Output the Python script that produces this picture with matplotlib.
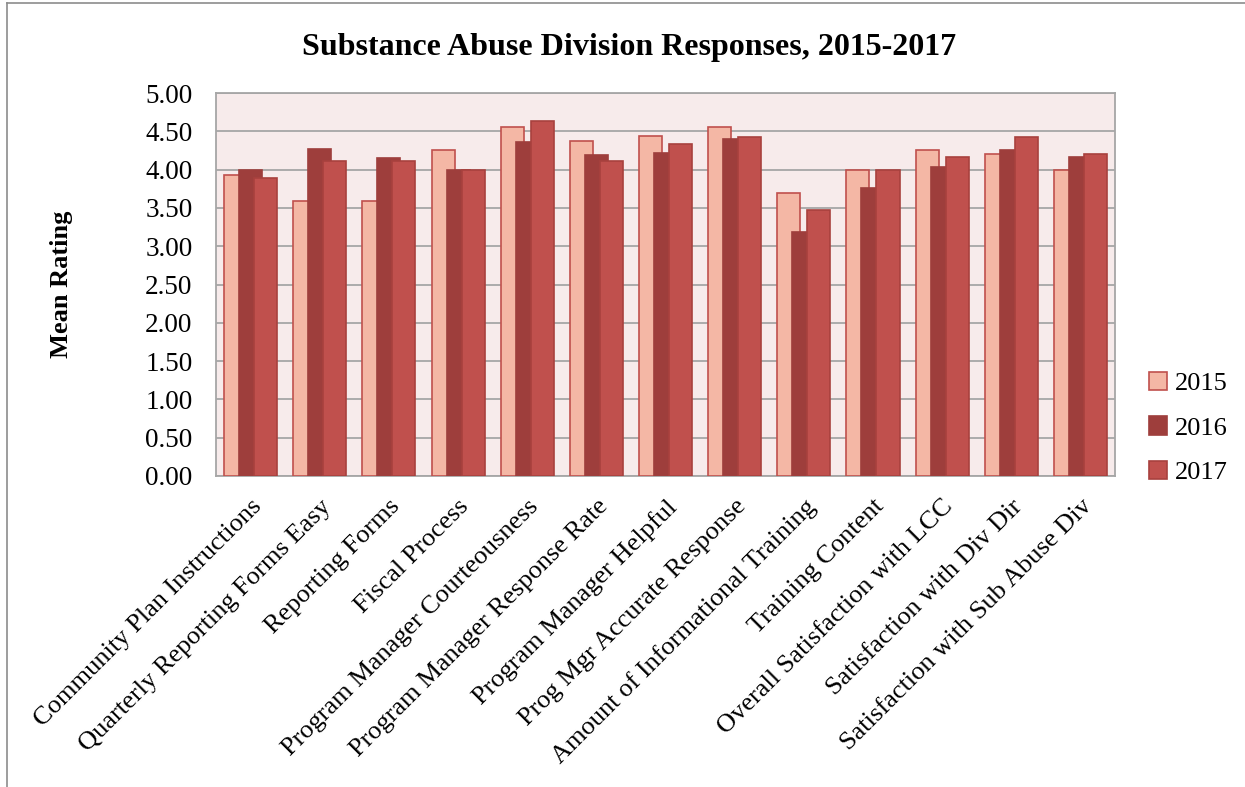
import numpy as np
import matplotlib.pyplot as plt
from matplotlib.lines import Line2D

# --- DATA ---
categories = [
    'Community Plan Instructions', 'Quarterly Reporting Forms Easy',
    'Reporting Forms', 'Fiscal Process', 'Program Manager Courteousness',
    'Program Manager Response Rate', 'Program Manager Helpful',
    'Prog Mgr Accurate Response', 'Amount of Informational Training',
    'Training Content', 'Overall Satisfaction with LCC',
    'Satisfaction with Div Dir', 'Satisfaction with Sub Abuse Div',
]
years = ['2015', '2016', '2017']
y2015 = [3.93, 3.59, 3.59, 4.25, 4.56, 4.38, 4.44, 4.56, 3.70, 4.00, 4.25, 4.21, 4.00]
y2016 = [4.00, 4.27, 4.15, 4.00, 4.36, 4.19, 4.22, 4.40, 3.18, 3.76, 4.04, 4.26, 4.16]
y2017 = [3.89, 4.11, 4.11, 4.00, 4.63, 4.11, 4.33, 4.42, 3.47, 4.00, 4.16, 4.42, 4.21]
y_ticks = np.arange(0, 5.01, 0.5)

fills = ['#F4B7A5', '#9E3E3C', '#C0504D']
edges = ['#C0504D', '#9E3E3C', '#A8413E']

plt.rcParams['font.family'] = ['Liberation Serif', 'DejaVu Serif']

fig = plt.figure(figsize=(12.45, 7.87), dpi=100)
ax = fig.add_axes([0.1735, 0.3952, 0.7221, 0.4866])
ax.set_facecolor('#F7EBEB')

x = np.arange(len(categories))
width = 0.333
step = 0.217
for i, vals in enumerate([y2015, y2016, y2017]):
    ax.bar(x + (i - 1) * step, vals, width, color=fills[i],
           edgecolor=edges[i], linewidth=1.2, label=years[i], zorder=3 + i)

ax.set_xlim(-0.5, len(categories) - 0.5)
ax.set_ylim(0, 5)
ax.set_yticks(y_ticks)
ax.set_yticklabels([f'{v:.2f}' for v in y_ticks], fontsize=19.5)
ax.set_xticks(x)
ax.set_xticklabels(categories, rotation=45, ha='right', va='top',
                   rotation_mode='anchor', fontsize=19)
ax.tick_params(axis='y', length=0, pad=17)
ax.tick_params(axis='x', length=0, pad=14)
ax.grid(axis='y', color='#A6A6A6', linewidth=1.3, zorder=1)
ax.set_axisbelow(True)
for s in ax.spines.values():
    s.set_color('#A6A6A6')
    s.set_linewidth(1.3)

ax.set_ylabel('Mean Rating', fontsize=19, fontweight='bold', labelpad=52)
fig.text(0.505, 0.94, 'Substance Abuse Division Responses, 2015-2017',
         ha='center', va='center', fontsize=23, fontweight='bold')

ax.legend(loc='center left', bbox_to_anchor=(1.011, 0.125), frameon=False,
          fontsize=19, handlelength=0.7, handleheight=0.7, handletextpad=0.3,
          labelspacing=0.8)

# outer chart border (left and top edges visible)
fig.add_artist(Line2D([0.0056, 0.0056], [0.0, 0.996], color='#8C8C8C', lw=1.2))
fig.add_artist(Line2D([0.0056, 1.0], [0.996, 0.996], color='#8C8C8C', lw=1.2))

fig.savefig('out.png', dpi=100)
